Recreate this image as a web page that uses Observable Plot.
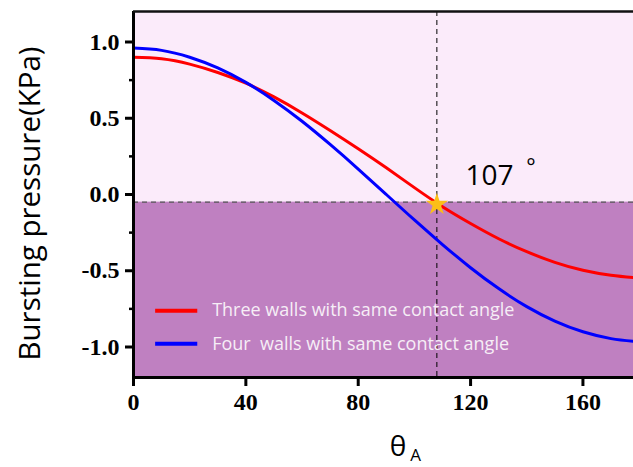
<!DOCTYPE html>
<html>
<head>
<meta charset="utf-8">
<script src="https://cdn.jsdelivr.net/npm/d3@7"></script>
<script src="https://cdn.jsdelivr.net/npm/@observablehq/plot@0.6"></script>
<style>
  html, body { margin: 0; padding: 0; background: #fff; overflow: hidden; }
</style>
</head>
<body>
<div id="chart"></div>
<script>
// ---- data ----
const theta = [0, 10, 20, 30, 40, 50, 60, 70, 80, 90, 100, 110, 120, 130, 140, 150, 160, 170, 178];
const threeWalls = [0.90, 0.89, 0.855, 0.80, 0.73, 0.64, 0.535, 0.42, 0.30, 0.175, 0.045, -0.08, -0.19, -0.29, -0.375, -0.445, -0.497, -0.53, -0.545];
const fourWalls = [0.96, 0.945, 0.90, 0.83, 0.735, 0.617, 0.48, 0.328, 0.167, 0.0, -0.167, -0.328, -0.48, -0.617, -0.735, -0.83, -0.90, -0.945, -0.962];
const seriesNames = ["Three walls with same contact angle", "Four  walls with same contact angle"];
const seriesColors = ["#ff0000", "#0000ff"];
const xTicks = [0, 40, 80, 120, 160];
const yTicks = [-1.0, -0.5, 0.0, 0.5, 1.0];
const yMinorTicks = [-0.75, -0.25, 0.25, 0.75];
const xDomain = [0, 178];
const yDomain = [-1.2, 1.2];
const thresholdPressure = -0.05;
const criticalAngle = 108;
const criticalPressure = -0.065;
const criticalLabel = "107";

// ---- build tables ----
const rows = [];
theta.forEach((t, i) => {
  rows.push({theta: t, p: threeWalls[i], s: seriesNames[0]});
  rows.push({theta: t, p: fourWalls[i], s: seriesNames[1]});
});
const regions = [
  {y1: thresholdPressure, y2: yDomain[1], fill: "#fbebfa"},
  {y1: yDomain[0], y2: thresholdPressure, fill: "#bf80c1"}
];
const legendRows = seriesNames.map((name, i) => ({name, color: seriesColors[i], y: [-0.762, -0.979][i]}));

const serif = "'Liberation Serif', 'Times New Roman', serif";
const sans = "'Open Sans', 'Noto Sans', sans-serif";

const chart = Plot.plot({
  width: 633,
  height: 467,
  marginLeft: 133,
  marginRight: 0,
  marginTop: 11,
  marginBottom: 90,
  style: {background: "#fff", fontFamily: serif, color: "#000", overflow: "visible"},
  x: {domain: xDomain, ticks: xTicks},
  y: {domain: yDomain, ticks: yTicks},
  marks: [
    Plot.rect(regions, {x1: xDomain[0], x2: xDomain[1], y1: "y1", y2: "y2", fill: "fill"}),
    Plot.ruleY([thresholdPressure], {stroke: "#555", strokeWidth: 1.2, strokeDasharray: "5,4"}),
    Plot.ruleX([criticalAngle], {stroke: "#000", strokeWidth: 1, strokeDasharray: "5,4"}),
    Plot.line(rows, {x: "theta", y: "p", z: "s", stroke: d => d.s === seriesNames[0] ? seriesColors[0] : seriesColors[1], strokeWidth: 3, curve: "natural"}),
    Plot.dot([{x: criticalAngle, y: criticalPressure}], {x: "x", y: "y", symbol: "star", r: 7, fill: "#fbbf18", stroke: "none"}),
    // axes
    Plot.axisY({ticks: yTicks, tickFormat: d => d.toFixed(1), tickSize: 8, tickPadding: 6, strokeWidth: 3, fontSize: 24, fontWeight: "bold", fontFamily: serif, label: null}),
    Plot.axisY({ticks: yMinorTicks, tickSize: 4, strokeWidth: 2.5, text: null, label: null}),
    Plot.axisX({ticks: xTicks, tickFormat: d => String(d), tickSize: 9, tickPadding: 6, strokeWidth: 3, fontSize: 24, fontWeight: "bold", fontFamily: serif, label: null}),
    Plot.ruleX([xDomain[0]], {strokeWidth: 3, stroke: "#000"}),
    Plot.ruleY([yDomain[0]], {strokeWidth: 3, stroke: "#000"}),
    Plot.ruleY([yDomain[1]], {strokeWidth: 2.5, stroke: "#111"}),
    // legend
    Plot.link(legendRows, {x1: 7.7, x2: 22.7, y1: "y", y2: "y", stroke: "color", strokeWidth: 4}),
    Plot.text(legendRows, {x: 28, y: "y", text: "name", textAnchor: "start", fill: "#f6eef6", fontSize: 18, fontFamily: sans}),
    // annotation
    Plot.text([criticalLabel], {x: 118.2, y: 0.124, text: d => d, textAnchor: "start", fontSize: 28, fontFamily: sans, fill: "#000"}),
    Plot.text(["°"], {x: 141.5, y: 0.18, text: d => d, textAnchor: "middle", fontSize: 22, fontFamily: sans, fill: "#000"}),
    // axis titles
    Plot.text(["Bursting pressure(KPa)"], {frameAnchor: "left", textAnchor: "middle", lineAnchor: "middle", dx: -103, dy: 9, rotate: -90, text: d => d, fontSize: 29.5, fontFamily: sans, fill: "#000"}),
    Plot.text(["θ"], {frameAnchor: "bottom", textAnchor: "middle", lineAnchor: "middle", dx: 14.5, dy: 70, text: d => d, fontSize: 28, fontFamily: sans, fill: "#000"}),
    Plot.text(["A"], {frameAnchor: "bottom", textAnchor: "middle", lineAnchor: "middle", dx: 32, dy: 78, text: d => d, fontSize: 17, fontFamily: sans, fill: "#000"})
  ]
});
document.getElementById("chart").appendChild(chart);
</script>
</body>
</html>
